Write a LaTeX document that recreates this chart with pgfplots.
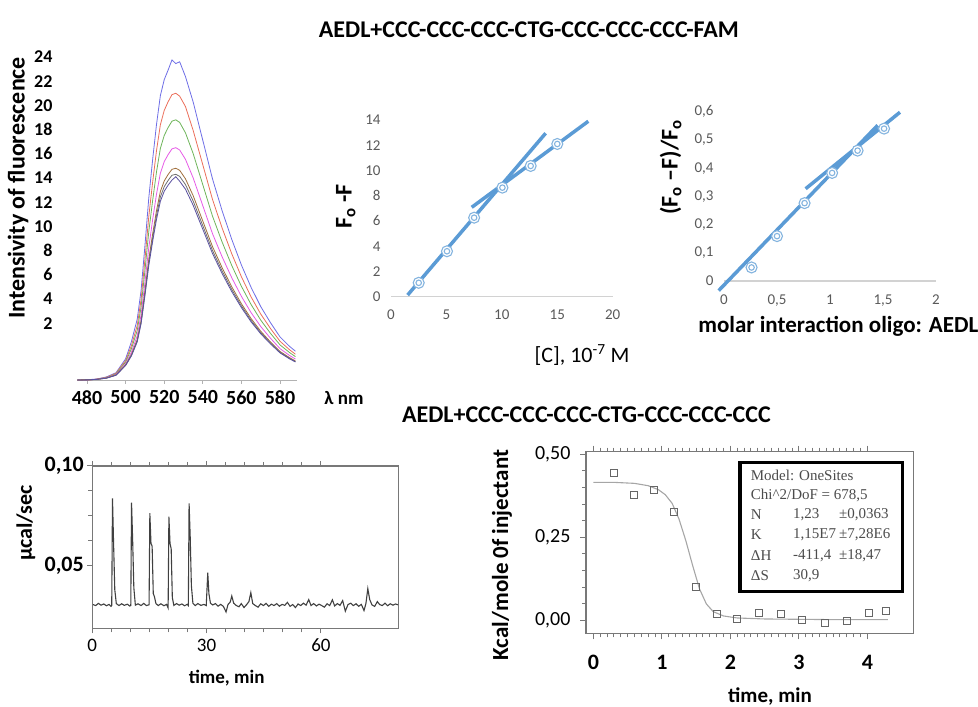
\documentclass[border=0pt]{standalone}
\usepackage{fontspec}
\setmainfont{Carlito}
\newfontfamily\tnr{Liberation Serif}
\usepackage{pgfplots}
\usepackage{pgfplotstable}
\pgfplotsset{compat=1.18}
\definecolor{xlblue}{RGB}{91,155,213}
\definecolor{txtgray}{RGB}{89,89,89}
\definecolor{boxgray}{RGB}{120,120,120}
\definecolor{spB}{RGB}{110,110,230}
\definecolor{spR}{RGB}{235,110,90}
\definecolor{spG}{RGB}{110,180,90}
\definecolor{spM}{RGB}{230,90,230}
\definecolor{spBr}{RGB}{160,110,60}
\definecolor{spGy}{RGB}{110,110,110}
\definecolor{spS}{RGB}{90,80,160}
\newcommand{\fs}[1]{\fontsize{#1}{#1}\selectfont}

\pgfdeclareplotmark{dcirc}{%
  \pgfpathcircle{\pgfpointorigin}{\pgfplotmarksize}\pgfusepathqfillstroke
  \pgfpathcircle{\pgfpointorigin}{0.5\pgfplotmarksize}\pgfusepathqstroke}

\pgfplotsset{every axis/.append style={scale only axis, clip=false,
  /pgf/number format/assume math mode=true}}

% fluorescence spectra (nm, seven titration steps)
\pgfplotstableread{
nm  b     r     g     m     br    gy    sl
475 -2.70 -2.70 -2.70 -2.70 -2.70 -2.70 -2.70
480 -2.68 -2.70 -2.69 -2.70 -2.68 -2.70 -2.69
485 -2.62 -2.63 -2.64 -2.64 -2.65 -2.65 -2.65
490 -2.45 -2.48 -2.50 -2.52 -2.54 -2.55 -2.55
495 -2.10 -2.15 -2.20 -2.25 -2.28 -2.30 -2.31
500 -0.95 -1.10 -1.22 -1.35 -1.45 -1.48 -1.50
503 0.47  0.14  -0.12 -0.40 -0.60 -0.66 -0.71
506 2.32  1.80  1.39  0.95  0.63  0.53  0.45
508 4.69  3.94  3.32  2.68  2.20  2.06  1.95
510 8.39  7.25  6.33  5.36  4.65  4.44  4.27
512 12.35 10.81 9.56  8.24  7.28  6.99  6.76
514 15.52 13.65 12.14 10.55 9.38  9.03  8.75
516 18.42 16.26 14.50 12.66 11.30 10.90 10.58
518 20.80 18.39 16.44 14.39 12.88 12.43 12.07
520 22.12 19.58 17.51 15.35 13.75 13.28 12.90
522 22.91 20.29 18.16 15.92 14.28 13.79 13.40
524 23.75 20.88 18.69 16.40 14.71 14.22 13.82
526 23.45 21.00 18.80 16.50 14.80 14.30 14.10
528 23.60 20.76 18.59 16.31 14.63 14.13 13.73
531 22.38 19.90 17.73 15.54 13.93 13.45 13.07
535 20.27 17.92 16.01 14.00 12.53 12.09 11.74
540 17.10 15.08 13.43 11.70 10.43 10.05 9.75
545 13.93 12.23 10.85 9.40  8.33  8.01  7.76
550 11.29 9.86  8.70  7.48  6.58  6.31  6.10
555 8.92  7.73  6.76  5.75  5.00  4.78  4.60
560 6.80  5.83  5.04  4.21  3.60  3.42  3.28
565 4.96  4.17  3.54  2.87  2.38  2.23  2.11
570 3.37  2.75  2.25  1.72  1.33  1.21  1.12
575 2.05  1.57  1.17  0.76  0.45  0.36  0.29
580 0.86  0.50  0.20  -0.11 -0.34 -0.41 -0.46
585 0.07  -0.21 -0.44 -0.68 -0.86 -0.92 -0.96
588 -0.32 -0.57 -0.77 -0.97 -1.13 -1.17 -1.21
}\spectra

\begin{document}
\begin{tikzpicture}
\path[use as bounding box] (0pt,0pt) rectangle (978pt,707pt);

\node[font=\fs{24}\bfseries] at (529pt,677pt) {AEDL+CCC-CCC-CCC-CTG-CCC-CCC-CCC-FAM};
\node[font=\fs{24}\bfseries] at (586.5pt,292pt) {AEDL+CCC-CCC-CCC-CTG-CCC-CCC-CCC};

% ---- spectra
\begin{axis}[at={(77pt,327pt)}, anchor=south west, width=220pt, height=340pt,
  xmin=474.8, xmax=588.8, ymin=-2.7, ymax=25.4,
  axis x line*=bottom, axis y line*=left,
  y axis line style={draw=none}, x axis line style={-, draw=gray!60, line width=0.8pt},
  xtick={480,500,...,580}, ytick={2,4,...,24},
  xtick style={draw=gray!60, line width=0.8pt}, ytick style={draw=none},
  tick align=outside, major tick length=4pt,
  xticklabel style={font=\fs{20}\bfseries, yshift=-3pt},
  yticklabel style={font=\fs{18}\bfseries, xshift=-17pt},
]
\addplot[spB, line width=0.8pt] table[x=nm,y=b]{\spectra};
\addplot[spR, line width=0.8pt] table[x=nm,y=r]{\spectra};
\addplot[spG, line width=0.8pt] table[x=nm,y=g]{\spectra};
\addplot[spM, line width=0.8pt] table[x=nm,y=m]{\spectra};
\addplot[spBr, line width=0.8pt] table[x=nm,y=br]{\spectra};
\addplot[spGy, line width=0.8pt] table[x=nm,y=gy]{\spectra};
\addplot[spS, line width=0.8pt] table[x=nm,y=sl]{\spectra};
\end{axis}
\node[rotate=90, font=\fs{24}\bfseries] at (18pt,519pt) {Intensivity of fluorescence};
\node[font=\fs{19}\bfseries] at (344pt,309pt) {λ nm};

% ---- F0-F vs [C]
\begin{axis}[at={(391pt,410.3pt)}, anchor=south west, width=221.7pt, height=176.7pt,
  xmin=0, xmax=20, ymin=0, ymax=14,
  axis x line*=bottom, axis y line*=left,
  y axis line style={draw=none}, x axis line style={-, draw=gray!35, line width=1.2pt},
  tick style={draw=none},
  xtick={0,5,...,20}, ytick={0,2,...,14},
  ticklabel style={font=\fs{15}, text=txtgray},
  xticklabel style={yshift=-10pt}, yticklabel style={xshift=-7pt},
]
\addplot[xlblue, line width=3.5pt] coordinates {(1.5,0.13) (13.95,12.95)};
\addplot[xlblue, line width=3.5pt] coordinates {(7.28,7.08) (17.8,13.9)};
\addplot[only marks, mark=dcirc, mark size=5.5pt,
  mark options={draw=xlblue!75, fill=white, line width=1.1pt}]
  coordinates {(2.5,1.1) (5.05,3.6) (7.5,6.26) (10.05,8.64) (12.6,10.36) (15.0,12.1)};
\end{axis}
\node[rotate=90, font=\fs{24}\bfseries] at (345.8pt,500.3pt) {F\textsubscript{o} -F};
\node[font=\fs{22}] at (582pt,352pt) {[C], 10\textsuperscript{-7} M};

% ---- (F0-F)/F0 vs ratio
\begin{axis}[at={(724pt,426pt)}, anchor=south west, width=212pt, height=169.3pt,
  xmin=0, xmax=2, ymin=0, ymax=0.6,
  axis x line*=bottom, axis y line*=left,
  y axis line style={draw=none}, x axis line style={-, draw=gray!35, line width=1.2pt},
  tick style={draw=none},
  xtick={0,0.5,...,2}, xticklabels={0,{0,5},1,{1,5},2},
  ytick={0,0.1,...,0.6}, yticklabels={0,{0,1},{0,2},{0,3},{0,4},{0,5},{0,6}},
  ticklabel style={font=\fs{15}, text=txtgray},
  xticklabel style={yshift=-10pt}, yticklabel style={xshift=-7pt},
]
\addplot[xlblue, line width=3.5pt] coordinates {(-0.05,-0.034) (1.45,0.552)};
\addplot[xlblue, line width=3.5pt] coordinates {(0.77,0.327) (1.66,0.598)};
\addplot[only marks, mark=dcirc, mark size=5.5pt,
  mark options={draw=xlblue!75, fill=white, line width=1.1pt}]
  coordinates {(0.26,0.048) (0.5,0.159) (0.76,0.276) (1.02,0.383) (1.26,0.462) (1.51,0.54)};
\end{axis}
\node[rotate=90, font=\fs{24}\bfseries] at (670.7pt,539.5pt) {(F\textsubscript{o} –F)/F\textsubscript{o}};
\node[font=\fs{23}\bfseries] at (838.3pt,380.3pt) {molar interaction oligo: AEDL};

% ---- ITC raw heat
\begin{axis}[at={(92.3pt,78.7pt)}, anchor=south west, width=306pt, height=162.3pt,
  xmin=0, xmax=80.3, ymin=0.0186, ymax=0.1,
  axis line style={draw=boxgray, line width=1.3pt},
  tick style={draw=boxgray, line width=1pt}, tick align=outside,
  major tick length=5pt, minor tick length=4pt, ytick pos=left,
  xtick={0,30,60}, minor x tick num=5,
  ytick={0.05,0.1}, yticklabels={{0,05},{0,10}}, minor y tick num=3,
  xticklabel style={font=\fs{19}, yshift=-2pt},
  yticklabel style={font=\fs{22}\bfseries},
]
\addplot[black!75, line width=1.1pt] coordinates {
(0.2,0.0305)(0.9,0.0300)(1.6,0.0311)(2.3,0.0302)(3.0,0.0308)(3.7,0.0299)(4.4,0.0306)(4.9,0.0296)
(5.1,0.0301)(5.3,0.0838)(5.6,0.0600)(5.9,0.0380)(6.3,0.0310)(7.0,0.0300)(7.7,0.0309)(8.4,0.0301)
(9.2,0.0307)(9.8,0.0298)(10.1,0.0300)(10.3,0.0816)(10.6,0.0620)(10.9,0.0390)(11.3,0.0302)
(12.0,0.0309)(12.8,0.0300)(13.5,0.0311)(14.2,0.0300)(14.9,0.0304)(15.1,0.0763)(15.4,0.0612)
(15.7,0.0598)(16.0,0.0360)(16.3,0.0345)(16.7,0.0310)(17.3,0.0300)(18.0,0.0309)(18.8,0.0299)
(19.5,0.0306)(19.9,0.0288)(20.1,0.0746)(20.4,0.0610)(20.7,0.0585)(21.0,0.0340)(21.4,0.0301)
(22.1,0.0310)(22.8,0.0302)(23.5,0.0308)(24.2,0.0299)(24.9,0.0306)(25.2,0.0300)(25.4,0.0813)
(25.7,0.0640)(26.0,0.0400)(26.4,0.0311)(27.0,0.0300)(27.7,0.0310)(28.5,0.0301)(29.3,0.0306)
(29.9,0.0300)(30.3,0.0465)(30.6,0.0360)(31.0,0.0312)(31.6,0.0303)(32.3,0.0310)(33.0,0.0297)
(33.7,0.0306)(34.4,0.0296)(35.1,0.0268)(35.6,0.0305)(36.2,0.0318)(36.6,0.0348)(37.1,0.0312)
(37.8,0.0300)(38.5,0.0294)(39.1,0.0310)(39.8,0.0290)(40.5,0.0305)(41.1,0.0320)(41.6,0.0365)
(42.1,0.0310)(42.8,0.0300)(43.5,0.0292)(44.2,0.0309)(44.9,0.0300)(45.6,0.0311)(46.3,0.0296)
(47.0,0.0307)(47.7,0.0300)(48.4,0.0310)(49.1,0.0297)(49.8,0.0306)(50.5,0.0301)(51.2,0.0316)
(51.9,0.0296)(52.6,0.0305)(53.3,0.0290)(54.0,0.0308)(54.7,0.0300)(55.4,0.0312)(56.1,0.0302)
(56.8,0.0330)(57.4,0.0300)(58.1,0.0310)(58.8,0.0298)(59.5,0.0307)(60.2,0.0300)(60.9,0.0292)
(61.6,0.0309)(62.3,0.0300)(63.0,0.0329)(63.6,0.0298)(64.3,0.0310)(65.0,0.0301)(65.7,0.0325)
(66.4,0.0272)(67.1,0.0305)(67.8,0.0312)(68.5,0.0300)(69.2,0.0309)(69.9,0.0296)(70.6,0.0306)
(71.3,0.0275)(71.8,0.0310)(72.3,0.0385)(72.8,0.0330)(73.4,0.0303)(74.1,0.0296)(74.8,0.0320)
(75.4,0.0305)(76.1,0.0300)(76.8,0.0312)(77.5,0.0299)(78.2,0.0309)(78.9,0.0302)(79.6,0.0308)
(80.2,0.0304)};
\end{axis}
\node[rotate=90, font=\fs{22}\bfseries] at (26pt,184pt) {μcal/sec};
\node[font=\fs{19}\bfseries] at (226.7pt,28.7pt) {time, min};

% ---- ITC integrated heats
\begin{axis}[at={(586pt,73.7pt)}, anchor=south west, width=327.3pt, height=181.6pt,
  xmin=-0.107, xmax=4.67, ymin=-0.038, ymax=0.507,
  axis line style={draw=boxgray, line width=1.3pt},
  tick style={draw=boxgray, line width=1pt}, tick align=outside,
  major tick length=6pt, minor tick length=4pt, ytick pos=left,
  xtick={0,1,2,3,4}, minor x tick num=9,
  ytick={0,0.25,0.5}, yticklabels={{0,00},{0,25},{0,50}}, minor y tick num=4,
  xticklabel style={font=\fs{22}\bfseries, yshift=-12pt},
  yticklabel style={font=\fs{20}, xshift=-6pt},
]
\addplot[gray!70, line width=1.1pt] coordinates {
(0,0.415)(0.3,0.415)(0.6,0.412)(0.8,0.405)(0.95,0.393)(1.05,0.378)(1.15,0.352)(1.25,0.305)
(1.35,0.24)(1.45,0.165)(1.55,0.095)(1.65,0.05)(1.75,0.027)(1.9,0.014)(2.1,0.008)(2.5,0.005)
(3,0.004)(3.5,0.003)(4.3,0.003)};
\addplot[only marks, mark=square, mark size=3.6pt, mark options={draw=black!60, line width=1pt}]
coordinates {(0.307,0.444)(0.594,0.376)(0.886,0.391)(1.18,0.327)(1.495,0.101)(1.80,0.019)
(2.10,0.005)(2.42,0.022)(2.74,0.021)(3.05,0.002)(3.38,-0.008)(3.70,-0.001)(4.02,0.024)(4.27,0.030)};
\end{axis}
\draw[line width=3.5pt, fill=white] (740pt,244.3pt) rectangle (902.7pt,115.3pt);
\begin{scope}[every node/.style={anchor=west, inner sep=0pt, font=\tnr\fs{15}, text=black!70}]
\node at (750.7pt,231.3pt) {Model: OneSites};
\node at (750.7pt,212pt) {Chi\textasciicircum 2/DoF = 678,5};
\node at (750.7pt,192pt) {N};   \node at (793pt,192pt) {1,23};   \node at (839pt,192pt) {±0,0363};
\node at (750.7pt,172pt) {K};   \node at (793pt,172pt) {1,15E7}; \node at (839pt,172pt) {±7,28E6};
\node at (750.7pt,151pt) {ΔH};  \node at (793pt,151pt) {-411,4}; \node at (839pt,151pt) {±18,47};
\node at (750.7pt,131.3pt) {ΔS}; \node at (793pt,131.3pt) {30,9};
\end{scope}
\node[rotate=90, font=\fs{23}\bfseries] at (502pt,152pt) {Kcal/mole 0f injectant};
\node[font=\fs{21}\bfseries] at (770pt,10.3pt) {time, min};
\end{tikzpicture}
\end{document}
